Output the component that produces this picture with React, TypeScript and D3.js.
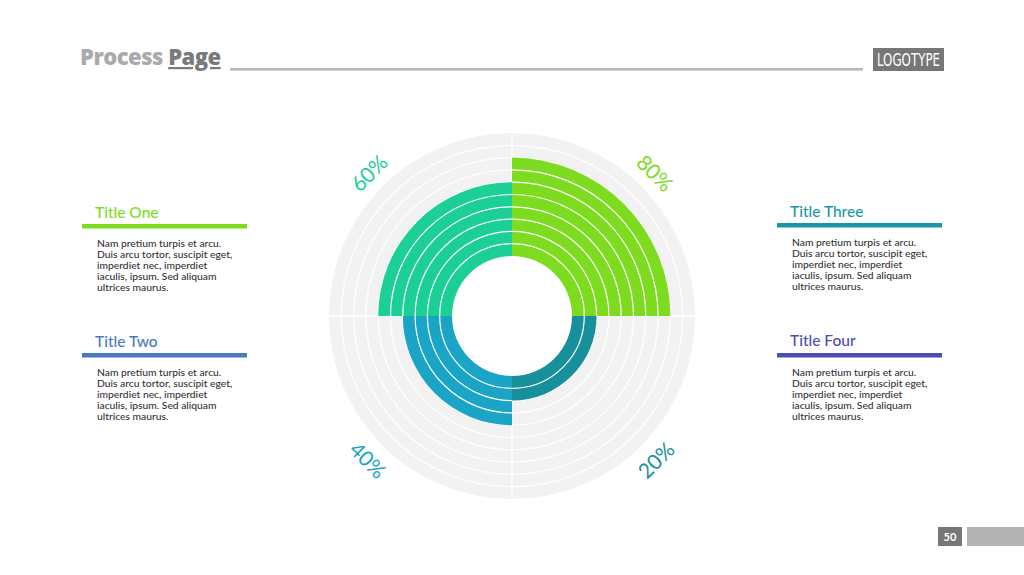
import React from "react";
import * as d3 from "d3";

const quadrantLabels = ["80%", "20%", "40%", "60%"];
const quadrantValues = [80, 20, 40, 60];
const quadrantColors = ["#7ddc1f", "#17909c", "#1aa4c6", "#1ccf97"];
const ringTicks = [0, 10, 20, 30, 40, 50, 60, 70, 80, 90, 100];

const titles = ["Title One", "Title Two", "Title Three", "Title Four"];
const titleColors = ["#7ddc1f", "#4a7bb8", "#1a97a3", "#4b4fb0"];
const bodyLines = [
  "Nam pretium turpis et arcu.",
  "Duis arcu tortor, suscipit eget,",
  "imperdiet nec, imperdiet",
  "iaculis, ipsum. Sed aliquam",
  "ultrices maurus.",
];

const W = 1024;
const H = 575;
const cx = 512;
const cy = 316;

export default function App() {
  const r = d3.scaleLinear().domain([0, 100]).range([60, 183]);
  const arc = d3.arc<any>();
  const q = Math.PI / 2;

  const blocks = [
    { x: 82, titleY: 218, lineY: 224 },
    { x: 82, titleY: 347, lineY: 353 },
    { x: 777, titleY: 217, lineY: 223 },
    { x: 777, titleY: 346, lineY: 353 },
  ];

  return (
    <svg
      width={W}
      height={H}
      style={{ position: "absolute", left: 0, top: 0, display: "block", background: "#fff" }}
      fontFamily="Lato, 'Open Sans', sans-serif"
    >
      {/* Header */}
      <text x={80} y={65} fontSize={22} fontWeight={900} fontFamily="'Open Sans', Lato, sans-serif" letterSpacing={-0.5}>
        <tspan fill="#aaaaaa">Process </tspan>
        <tspan fill="#7a7a7a" textDecoration="underline">Page</tspan>
      </text>
      <rect x={230} y={68} width={633} height={2.6} fill="#b8b8b8" />
      <rect x={873} y={48} width={71} height={23} fill="#777777" />
      <text
        x={877}
        y={66}
        fill="#ffffff"
        fontSize={17}
        textLength={63}
        lengthAdjust="spacingAndGlyphs"
        fontFamily="'Liberation Sans Narrow', 'DejaVu Sans Condensed', sans-serif"
      >
        LOGOTYPE
      </text>

      {/* Background polar grid */}
      <g transform={`translate(${cx},${cy})`}>
        <circle r={r(100)} fill="#f2f2f2" />
        {ringTicks.slice(1, -1).map((t) => (
          <circle key={t} r={r(t)} fill="none" stroke="#ffffff" strokeWidth={1.2} />
        ))}
        <line x1={0} y1={-r(100)} x2={0} y2={r(100)} stroke="#ffffff" strokeWidth={1.4} />
        <line x1={-r(100)} y1={0} x2={r(100)} y2={0} stroke="#ffffff" strokeWidth={1.4} />
        <circle r={r(0)} fill="#ffffff" />

        {quadrantValues.map((v, i) => {
          const a0 = i * q;
          const a1 = (i + 1) * q;
          const d = arc({ innerRadius: r(0), outerRadius: r(v), startAngle: a0, endAngle: a1 });
          const inner = ringTicks.filter((t) => t > 0 && t < v);
          return (
            <g key={i}>
              <path d={d || ""} fill={quadrantColors[i]} />
              {inner.map((t) => (
                <path
                  key={t}
                  d={
                    arc({ innerRadius: r(t), outerRadius: r(t), startAngle: a0, endAngle: a1 }) || ""
                  }
                  fill="none"
                  stroke="#ffffff"
                  strokeWidth={1.2}
                />
              ))}
            </g>
          );
        })}

        {quadrantLabels.map((lab, i) => {
          const mid = (i + 0.5) * q;
          const rr = 203;
          const x = rr * Math.sin(mid);
          const y = -rr * Math.cos(mid);
          let deg = (mid * 180) / Math.PI;
          if (deg > 90 && deg < 270) deg -= 180;
          return (
            <text
              key={lab}
              transform={`translate(${x},${y}) rotate(${deg})`}
              textAnchor="middle"
              dominantBaseline="central"
              fontSize={21}
              fill={quadrantColors[i]}
              fontFamily="Lato, sans-serif"
            >
              {lab}
            </text>
          );
        })}
      </g>

      {/* Side text blocks */}
      {blocks.map((b, i) => (
        <g key={i}>
          <text x={b.x + 13} y={b.titleY} fontSize={15.5} fill={titleColors[i]} fontWeight={500}>
            {titles[i]}
          </text>
          <rect x={b.x} y={b.lineY} width={165} height={4.5} fill={titleColors[i]} />
          {bodyLines.map((l, j) => (
            <text key={j} x={b.x + 15} y={b.lineY + 23 + j * 11.1} fontSize={10.3} fill="#333333" fontWeight={500}>
              {l}
            </text>
          ))}
        </g>
      ))}

      {/* Page number */}
      <rect x={938} y={527} width={24} height={19} fill="#777777" />
      <text x={950} y={540.5} textAnchor="middle" fontSize={11} fontWeight={700} fill="#ffffff">
        50
      </text>
      <rect x={967} y={527} width={57} height={19} fill="#b3b3b3" />
    </svg>
  );
}
